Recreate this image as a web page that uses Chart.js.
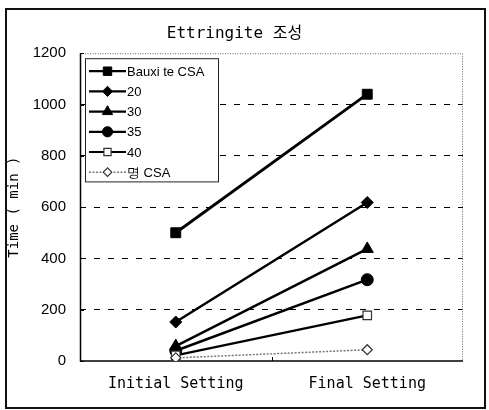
<!DOCTYPE html>
<html>
<head>
<meta charset="utf-8">
<script src="https://cdn.jsdelivr.net/npm/chart.js@4.4.1/dist/chart.umd.min.js"></script>
<style>
  html, body { margin: 0; padding: 0; background: #fff; }
  #wrap { width: 489px; height: 410px; position: relative; }
</style>
</head>
<body>
<div id="wrap"><canvas id="c" width="489" height="410"></canvas></div>
<script>
// Setting times of the Ettringite compositions
const categories = ['Initial Setting', 'Final Setting'];
const seriesNames = ['Bauxite CSA', '20', '30', '35', '40', '명 CSA'];
const bauxiteCSA = [500, 1040];
const comp20 = [152, 618];
const comp30 = [58, 437];
const comp35 = [40, 317];
const comp40 = [22, 178];
const myeongCSA = [12, 44];
const yTicks = [0, 200, 400, 600, 800, 1000, 1200];

const MONO = '"DejaVu Sans Mono", "Liberation Mono", monospace';
const SANS = '"Liberation Sans", Arial, sans-serif';

function mk(label, data, style, radius, filled, dash, color, width) {
  return {
    label, data,
    borderColor: color,
    borderWidth: width,
    borderDash: dash,
    pointStyle: style,
    pointRadius: radius,
    pointHoverRadius: radius,
    pointBackgroundColor: filled ? '#000' : '#fff',
    pointBorderColor: filled ? '#000' : '#333',
    pointBorderWidth: filled ? 1 : 1.2,
    tension: 0,
    fill: false
  };
}

const datasets = [
  mk(seriesNames[5], myeongCSA, 'rectRot', 5, false, [2, 1.5], '#777', 1.5),
  mk(seriesNames[4], comp40, 'rect', 6, false, [], '#000', 2.2),
  mk(seriesNames[3], comp35, 'circle', 6, true, [], '#000', 2.5),
  mk(seriesNames[2], comp30, 'triangle', 7, true, [], '#000', 2.5),
  mk(seriesNames[1], comp20, 'rectRot', 6, true, [], '#000', 2.5),
  mk(seriesNames[0], bauxiteCSA, 'rect', 7, true, [], '#000', 2.8)
];

// outer frame, plot border and the boxed legend inside the plot
const decor = {
  id: 'decor',
  beforeDraw(chart) {
    const ctx = chart.ctx;
    ctx.save();
    ctx.fillStyle = '#fff';
    ctx.fillRect(0, 0, chart.width, chart.height);
    ctx.strokeStyle = '#111';
    ctx.lineWidth = 2;
    ctx.strokeRect(6, 9, 479, 399);
    ctx.restore();
  },
  beforeDatasetsDraw(chart) {
    const { ctx, chartArea: a, scales } = chart;
    ctx.save();
    // dotted top / right border
    ctx.strokeStyle = '#666';
    ctx.lineWidth = 1;
    ctx.setLineDash([1, 1.5]);
    ctx.beginPath();
    ctx.moveTo(a.left, a.top + 0.5);
    ctx.lineTo(a.right - 0.5, a.top + 0.5);
    ctx.lineTo(a.right - 0.5, a.bottom);
    ctx.stroke();
    ctx.setLineDash([]);
    // solid left and bottom axis
    ctx.strokeStyle = '#000';
    ctx.lineWidth = 1.5;
    ctx.beginPath();
    ctx.moveTo(a.left + 0.5, a.top);
    ctx.lineTo(a.left + 0.5, a.bottom);
    ctx.lineTo(a.right, a.bottom);
    ctx.stroke();
    // small inner tick marks
    ctx.lineWidth = 1;
    yTicks.forEach(v => {
      const y = Math.round(scales.y.getPixelForValue(v)) + 0.5;
      ctx.beginPath();
      ctx.moveTo(a.left, y);
      ctx.lineTo(a.left + 4, y);
      ctx.stroke();
    });
    const xm = Math.round((a.left + a.right) / 2) + 0.5;
    ctx.beginPath();
    ctx.moveTo(xm, a.bottom);
    ctx.lineTo(xm, a.bottom - 4);
    ctx.stroke();
    ctx.restore();
  },
  afterDraw(chart) {
    const { ctx, chartArea: a } = chart;
    const bx = a.left + 5, by = a.top + 5, bw = 133, rowH = 20.2;
    const bh = rowH * seriesNames.length + 2;
    ctx.save();
    ctx.fillStyle = '#fff';
    ctx.fillRect(bx, by, bw, bh);
    ctx.strokeStyle = '#222';
    ctx.lineWidth = 1;
    ctx.strokeRect(bx + 0.5, by + 0.5, bw, bh);
    const ordered = seriesNames.map(n => chart.data.datasets.find(d => d.label === n));
    ordered.forEach((ds, i) => {
      const cy = by + 13 + i * rowH;
      const x0 = bx + 4, x1 = bx + 41, xc = (x0 + x1) / 2;
      ctx.strokeStyle = ds.borderColor;
      ctx.lineWidth = Math.min(ds.borderWidth, 2.2);
      ctx.setLineDash(ds.borderDash || []);
      ctx.beginPath();
      ctx.moveTo(x0, cy);
      ctx.lineTo(x1, cy);
      ctx.stroke();
      ctx.setLineDash([]);
      ctx.fillStyle = ds.pointBackgroundColor;
      ctx.strokeStyle = ds.pointBorderColor;
      ctx.lineWidth = ds.pointBorderWidth;
      Chart.helpers.drawPoint(ctx, {
        pointStyle: ds.pointStyle,
        radius: ds.pointRadius * 0.85,
        rotation: 0,
        borderWidth: ds.pointBorderWidth
      }, xc, cy);
      ctx.fillStyle = '#000';
      ctx.font = '13px ' + SANS;
      ctx.textBaseline = 'middle';
      ctx.textAlign = 'left';
      const txt = ds.label === 'Bauxite CSA' ? 'Bauxi te CSA' : ds.label;
      ctx.fillText(txt, x1 + 1, cy + 1);
    });
    ctx.restore();
  }
};

new Chart(document.getElementById('c'), {
  type: 'line',
  data: { labels: categories, datasets },
  options: {
    responsive: false,
    animation: false,
    events: [],
    layout: { padding: { left: 6, right: 26, top: 0, bottom: 14 } },
    plugins: {
      legend: { display: false },
      tooltip: { enabled: false },
      title: {
        display: true,
        text: 'Ettringite 조성',
        color: '#000',
        font: { family: MONO + ', "Noto Sans CJK KR"', size: 16, weight: 'normal' },
        padding: { top: 24, bottom: 10 }
      }
    },
    scales: {
      x: {
        offset: true,
        grid: { display: false, drawTicks: false },
        border: { display: false },
        ticks: {
          color: '#000',
          padding: 14,
          font: { family: MONO, size: 15 },
          maxRotation: 0
        },
        afterFit(s) { s.height = 35; }
      },
      y: {
        min: 0,
        max: 1200,
        afterBuildTicks(s) { s.ticks = yTicks.map(v => ({ value: v })); },
        grid: {
          drawTicks: false,
          color: ctx => (ctx.tick.value === 0 || ctx.tick.value === 1200) ? 'rgba(0,0,0,0)' : '#000',
          lineWidth: 1
        },
        border: { display: false, dash: [6, 8] },
        ticks: {
          color: '#000',
          padding: 14,
          font: { family: SANS, size: 15 },
          callback: v => String(v)
        },
        title: {
          display: true,
          text: 'Time ( min )',
          color: '#000',
          font: { family: MONO, size: 14 },
          padding: { top: 0, bottom: 4 }
        },
        afterFit(s) { s.width = 74; }
      }
    }
  },
  plugins: [decor]
});
</script>
</body>
</html>
